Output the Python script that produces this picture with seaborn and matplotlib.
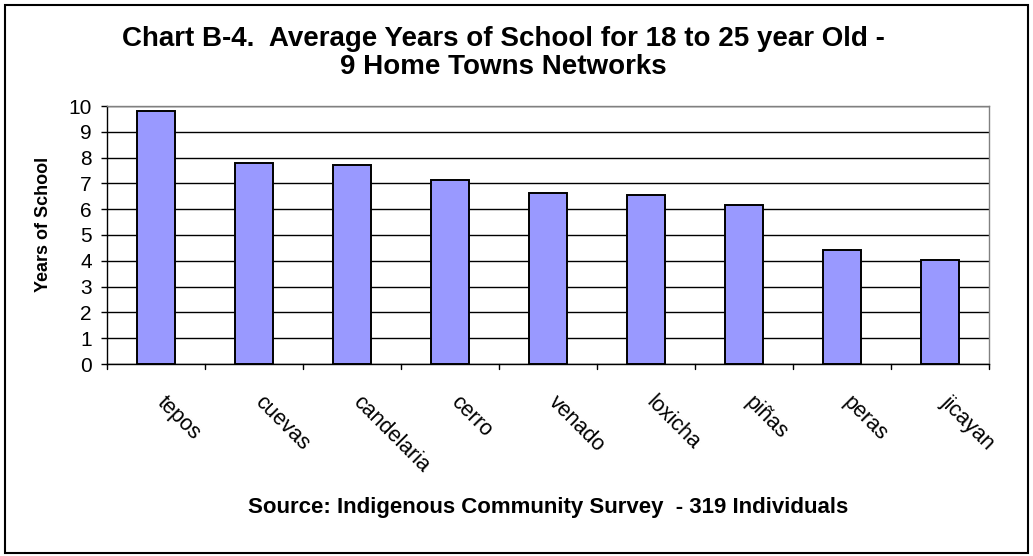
import matplotlib
matplotlib.use("Agg")
import matplotlib.pyplot as plt
import seaborn as sns
import pandas as pd
from matplotlib.patches import Rectangle
from matplotlib.transforms import ScaledTranslation

towns = ["tepos", "cuevas", "candelaria", "cerro", "venado", "loxicha", "piñas", "peras", "jicayan"]
years = [9.82, 7.79, 7.72, 7.12, 6.64, 6.54, 6.17, 4.40, 4.03]
yticks = list(range(0, 11))

title = "Chart B-4.  Average Years of School for 18 to 25 year Old -\n9 Home Towns Networks"
ylabel = "Years of School"
source = "Source: Indigenous Community Survey  - 319 Individuals"

sns.set_style("white")
plt.rcParams['font.family'] = ['Liberation Sans', 'DejaVu Sans']
plt.rcParams['text.color'] = 'black'
plt.rcParams['axes.labelcolor'] = 'black'
plt.rcParams['xtick.color'] = 'black'
plt.rcParams['ytick.color'] = 'black'

df = pd.DataFrame({"town": towns, "years": years})

W, H = 1033, 556
fig = plt.figure(figsize=(W / 100, H / 100), dpi=100)
ax = fig.add_axes([107 / W, 1 - 364 / H, (989 - 107) / W, (364 - 106) / H])

sns.barplot(data=df, x="town", y="years", ax=ax, color="#9999FF", saturation=1,
            width=0.39, edgecolor="black", linewidth=1.4, zorder=3)

ax.set_ylim(0, 10)
ax.set_xlim(-0.5, len(towns) - 0.5)
ax.set_yticks(yticks)
ax.set_yticklabels([str(t) for t in yticks], fontsize=15)
ax.yaxis.grid(True, color="black", linewidth=1.0, zorder=0)
ax.set_axisbelow(True)
ax.tick_params(axis="y", which="both", left=True, length=4, width=1, color="black", pad=7)

ax.set_xticks(list(range(len(towns))))
ax.set_xticklabels(towns, rotation=-45, ha="left", va="top", rotation_mode="anchor", fontsize=15.5)
ax.tick_params(axis="x", length=0, pad=20)
for lbl in ax.get_xticklabels():
    lbl.set_transform(lbl.get_transform() + ScaledTranslation(0.11, 0, fig.dpi_scale_trans))
for i in range(len(towns) + 1):
    ax.plot([i - 0.5, i - 0.5], [0, -0.2], color="black", lw=1, clip_on=False)

ax.set_xlabel("")
ax.set_ylabel("")
fig.text(43 / W, 1 - 224 / H, ylabel, rotation=90, ha="center", va="center",
         fontsize=13, fontweight="bold")

for s in ["left", "bottom"]:
    ax.spines[s].set_color("black")
    ax.spines[s].set_linewidth(1.0)
for s in ["top", "right"]:
    ax.spines[s].set_color("#808080")
    ax.spines[s].set_linewidth(1.0)

fig.text(503 / W, 1 - 53 / H, title, ha="center", va="center", fontsize=20, fontweight="bold",
         linespacing=1.05)
fig.text(548 / W, 1 - 508 / H, source, ha="center", va="center", fontsize=16, fontweight="bold")

fig.patches.append(Rectangle((5 / W, 3 / H), 1 - 10 / W, 1 - 8 / H, transform=fig.transFigure,
                             fill=False, edgecolor="black", linewidth=1.5))

fig.savefig("out.png", dpi=100)
